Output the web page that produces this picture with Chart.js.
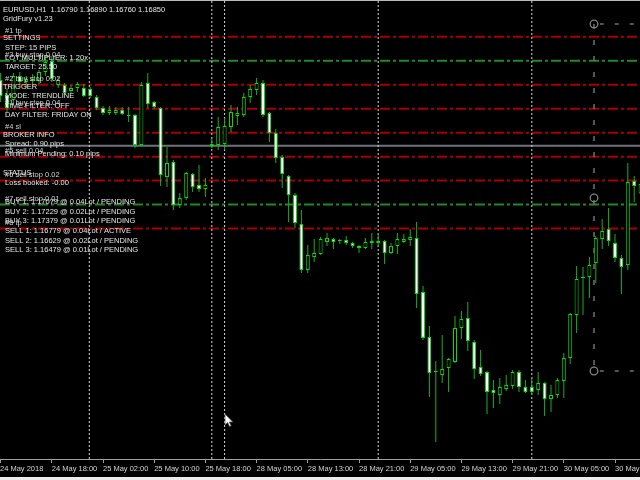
<!DOCTYPE html>
<html>
<head>
<meta charset="utf-8">
<title>EURUSD,H1 - GridFury</title>
<script src="https://cdn.jsdelivr.net/npm/chart.js@4.4.1/dist/chart.umd.min.js"></script>
<style>
  html, body { margin: 0; padding: 0; background: #ececec; }
  #wrap { position: relative; width: 640px; height: 477px; background: #000; }
</style>
</head>
<body>
<div id="wrap"><canvas id="chart"></canvas></div>
<script>
// --- EURUSD H1 candles, 24-30 May 2018 (one entry per bar) ---

const openPrices = [
  1.17500, 1.17406, 1.17375, 1.17525, 1.17488, 1.17506, 1.17494, 1.17550, 1.17619, 1.17469,
  1.17469, 1.17431, 1.17450, 1.17450, 1.17444, 1.17394, 1.17325, 1.17294, 1.17294, 1.17313,
  1.17281, 1.17281, 1.17094, 1.17481, 1.17363, 1.17325, 1.16894, 1.16988, 1.16719, 1.16763,
  1.16913, 1.16844, 1.16819, 1.17088, 1.17094, 1.17100, 1.17206, 1.17275, 1.17281, 1.17394,
  1.17438, 1.17481, 1.17294, 1.17169, 1.17019, 1.16900, 1.16781, 1.16600, 1.16313, 1.16394,
  1.16413, 1.16488, 1.16506, 1.16494, 1.16500, 1.16481, 1.16463, 1.16450, 1.16481, 1.16481,
  1.16494, 1.16419, 1.16463, 1.16488, 1.16500, 1.16513, 1.16175, 1.15894, 1.15675, 1.15656,
  1.15700, 1.15738, 1.15950, 1.16013, 1.15863, 1.15706, 1.15675, 1.15563, 1.15531, 1.15569,
  1.15588, 1.15675, 1.15581, 1.15581, 1.15563, 1.15606, 1.15506, 1.15531, 1.15619, 1.15763,
  1.16031, 1.16263, 1.16269, 1.16356, 1.16506, 1.16569, 1.16481, 1.16388, 1.16344, 1.16869,
  1.16790
];
const highPrices = [
  1.17544, 1.17450, 1.17544, 1.17550, 1.17525, 1.17538, 1.17563, 1.17656, 1.17644, 1.17519,
  1.17481, 1.17469, 1.17488, 1.17475, 1.17456, 1.17406, 1.17338, 1.17338, 1.17331, 1.17331,
  1.17331, 1.17288, 1.17488, 1.17544, 1.17369, 1.17331, 1.17081, 1.17000, 1.16794, 1.16925,
  1.16919, 1.16969, 1.16888, 1.17138, 1.17269, 1.17263, 1.17344, 1.17331, 1.17419, 1.17469,
  1.17513, 1.17500, 1.17300, 1.17194, 1.17031, 1.16906, 1.16794, 1.16688, 1.16469, 1.16506,
  1.16519, 1.16544, 1.16513, 1.16506, 1.16525, 1.16488, 1.16469, 1.16513, 1.16544, 1.16544,
  1.16500, 1.16481, 1.16544, 1.16538, 1.16569, 1.16613, 1.16213, 1.15963, 1.15744, 1.15906,
  1.15763, 1.16025, 1.16056, 1.16113, 1.15875, 1.15813, 1.15681, 1.15625, 1.15638, 1.15656,
  1.15688, 1.15688, 1.15625, 1.15644, 1.15675, 1.15613, 1.15594, 1.15638, 1.15794, 1.16044,
  1.16338, 1.16331, 1.16394, 1.16525, 1.16631, 1.16700, 1.16538, 1.16406, 1.16981, 1.16900,
  1.16890
];
const lowPrices = [
  1.17363, 1.17300, 1.17350, 1.17469, 1.17450, 1.17475, 1.17475, 1.17525, 1.17488, 1.17450,
  1.17406, 1.17419, 1.17425, 1.17394, 1.17388, 1.17313, 1.17281, 1.17281, 1.17281, 1.17281,
  1.17238, 1.17075, 1.17088, 1.17325, 1.17319, 1.16838, 1.16831, 1.16688, 1.16700, 1.16750,
  1.16800, 1.16800, 1.16769, 1.17075, 1.17063, 1.17063, 1.17175, 1.17219, 1.17269, 1.17356,
  1.17406, 1.17269, 1.17113, 1.16981, 1.16825, 1.16613, 1.16575, 1.16294, 1.16294, 1.16363,
  1.16406, 1.16463, 1.16444, 1.16475, 1.16469, 1.16450, 1.16419, 1.16444, 1.16444, 1.16456,
  1.16350, 1.16413, 1.16413, 1.16481, 1.16463, 1.16075, 1.15875, 1.15519, 1.15238, 1.15606,
  1.15550, 1.15731, 1.15881, 1.15806, 1.15631, 1.15650, 1.15413, 1.15450, 1.15475, 1.15556,
  1.15569, 1.15550, 1.15544, 1.15531, 1.15531, 1.15400, 1.15425, 1.15513, 1.15513, 1.15725,
  1.15919, 1.16031, 1.16138, 1.16231, 1.16444, 1.16463, 1.16363, 1.16163, 1.16313, 1.16738,
  1.16760
];
const closePrices = [
  1.17400, 1.17325, 1.17525, 1.17488, 1.17506, 1.17494, 1.17550, 1.17613, 1.17506, 1.17500,
  1.17419, 1.17450, 1.17475, 1.17400, 1.17400, 1.17325, 1.17294, 1.17313, 1.17313, 1.17288,
  1.17275, 1.17094, 1.17469, 1.17350, 1.17331, 1.16906, 1.16981, 1.16719, 1.16763, 1.16919,
  1.16831, 1.16819, 1.16844, 1.17100, 1.17206, 1.17213, 1.17300, 1.17294, 1.17394, 1.17444,
  1.17481, 1.17281, 1.17169, 1.17013, 1.16913, 1.16781, 1.16606, 1.16313, 1.16406, 1.16419,
  1.16506, 1.16513, 1.16488, 1.16494, 1.16481, 1.16463, 1.16450, 1.16488, 1.16494, 1.16494,
  1.16419, 1.16463, 1.16506, 1.16506, 1.16519, 1.16163, 1.15888, 1.15669, 1.15675, 1.15694,
  1.15756, 1.15950, 1.16006, 1.15869, 1.15694, 1.15663, 1.15550, 1.15544, 1.15581, 1.15594,
  1.15675, 1.15581, 1.15550, 1.15550, 1.15606, 1.15506, 1.15531, 1.15625, 1.15763, 1.16038,
  1.16256, 1.16269, 1.16344, 1.16513, 1.16556, 1.16494, 1.16388, 1.16331, 1.16863, 1.16838,
  1.16850
];

// time axis: bar index of each label and its text
const tickBars = [-0.094, 8, 16, 24, 32, 40, 48, 56, 64, 72, 80, 88, 96];
const tickLabels = [
  '24 May 2018', '24 May 18:00', '25 May 02:00', '25 May 10:00', '25 May 18:00',
  '28 May 05:00', '28 May 13:00', '28 May 21:00', '29 May 05:00', '29 May 13:00',
  '29 May 21:00', '30 May 05:00', '30 May 13:00'
];

// grid order levels drawn as horizontal lines
const redLevels = [1.17771, 1.17471, 1.17321, 1.17171, 1.17021, 1.16871, 1.16571];
const redLevelNames = ['#1 tp', '#2 buy stop 0.02', '#1 buy stop 0.04', '#4 sl', '#5 sell 0.04', '#6 sell stop 0.02', '#8 tp'];
const greenLevels = [1.17621, 1.16721];
const greenLevelNames = ['#3 buy stop 0.04', '#7 sell stop 0.01'];
const trendLevel = 1.17089;

// vertical markers (bar index): day separators and a drawn vertical line
const daySeparators = [13.86, 35, 59, 83];
const markerBars = [33];

// gray anchor object near the right edge
const anchorBar = 92.72;
const anchorPrices = [1.17850, 1.16763, 1.15681];

// EA info panel
const panelLines = [
  'EURUSD,H1  1.16790 1.16890 1.16760 1.16850',
  'GridFury v1.23',
  '',
  'SETTINGS',
  ' STEP: 15 PIPS',
  ' LOT MULTIPLIER: 1.20x',
  ' TARGET: 25.50',
  '',
  'TRIGGER',
  ' MODE: TRENDLINE',
  ' TIME FILTER: OFF',
  ' DAY FILTER: FRIDAY ON',
  '',
  'BROKER INFO',
  ' Spread: 0.90 pips',
  ' Minimum Pending: 0.10 pips',
  '',
  'STATUS',
  ' Loss booked: -0.00',
  '',
  ' BUY 1: 1.17079 @ 0.04Lot / PENDING',
  ' BUY 2: 1.17229 @ 0.02Lot / PENDING',
  ' BUY 3: 1.17379 @ 0.01Lot / PENDING',
  ' SELL 1: 1.16779 @ 0.04Lot / ACTIVE',
  ' SELL 2: 1.16629 @ 0.02Lot / PENDING',
  ' SELL 3: 1.16479 @ 0.01Lot / PENDING'
];

const X_MIN = -0.094;
const X_MAX = 99.906;
const Y_MIN = 1.15131;
const Y_MAX = 1.18;

const FONT = '"Liberation Sans", Arial, sans-serif';
Chart.defaults.font.family = FONT;

const bullColor = '#000000';
const bearColor = '#ffffff';
const edgeColor = '#00e000';
const wickColor = '#18b018';

const bodyColors = openPrices.map((o, i) =>
  closePrices[i] < o ? bearColor : (closePrices[i] > o ? bullColor : edgeColor));

function hLine(price, color, width, dash) {
  return {
    type: 'line',
    data: [{ x: X_MIN, y: price }, { x: X_MAX, y: price }],
    borderColor: color, borderWidth: width, borderDash: dash,
    pointRadius: 0, order: 10
  };
}
function vLine(bar, color, dash) {
  return {
    type: 'line',
    data: [{ x: bar, y: Y_MIN }, { x: bar, y: Y_MAX }],
    borderColor: color, borderWidth: 1, borderDash: dash,
    pointRadius: 0, order: 9
  };
}

const datasets = [
  {
    label: 'body',
    data: openPrices.map((o, i) => ({ x: i, y: [o, closePrices[i]] })),
    backgroundColor: bodyColors,
    borderColor: edgeColor,
    borderWidth: 1,
    borderSkipped: false,
    barThickness: 4,
    minBarLength: 1,
    inflateAmount: 0,
    grouped: false,
    order: 1
  },
  {
    label: 'wick',
    data: lowPrices.map((l, i) => ({ x: i, y: [l, highPrices[i]] })),
    backgroundColor: wickColor,
    borderWidth: 0,
    barThickness: 1,
    inflateAmount: 0,
    grouped: false,
    order: 2
  }
];

redLevels.forEach(p => datasets.push(hLine(p, '#a80000', 2, [10, 3, 3, 3])));
greenLevels.forEach(p => datasets.push(hLine(p, '#1f8a1f', 2, [10, 3, 3, 3])));
datasets.push(hLine(trendLevel, '#6c737c', 2, []));
daySeparators.forEach(b => datasets.push(vLine(b, '#d8d8d8', [2, 2])));
markerBars.forEach(b => datasets.push(vLine(b, '#d8d8d8', [2, 2])));

// gray anchor: vertical dashed line with three handles, two dashed rays to the right
datasets.push({
  type: 'line',
  data: anchorPrices.map(p => ({ x: anchorBar, y: p })),
  borderColor: '#707070', borderWidth: 1.5, borderDash: [5, 11],
  pointRadius: 3.8, pointBorderWidth: 1.3,
  pointBorderColor: '#808080', pointBackgroundColor: 'rgba(0,0,0,0)',
  order: 8
});
[anchorPrices[0], anchorPrices[2]].forEach(p => datasets.push({
  type: 'line',
  data: [{ x: anchorBar + 0.9, y: p }, { x: X_MAX, y: p }],
  borderColor: '#707070', borderWidth: 1.5, borderDash: [4, 11],
  pointRadius: 0, order: 8
}));

// black background, top frame, texts and the mouse pointer
const screenPlugin = {
  id: 'screen',
  beforeDraw(chart) {
    const c = chart.ctx;
    c.save();
    c.fillStyle = '#000';
    c.fillRect(0, 0, chart.width, chart.height);
    c.restore();
  },
  afterDatasetsDraw(chart) {
    const c = chart.ctx;
    const y = chart.scales.y;
    c.save();
    c.font = '7.5px ' + FONT;
    c.textBaseline = 'middle';
    c.fillStyle = '#cfcfcf';
    redLevels.forEach((p, i) => c.fillText(redLevelNames[i], 5, y.getPixelForValue(p) - 5.5));
    greenLevels.forEach((p, i) => c.fillText(greenLevelNames[i], 5, y.getPixelForValue(p) - 5.5));
    c.fillStyle = '#e4e4e4';
    panelLines.forEach((t, i) => { if (t) c.fillText(t, 3, 9.5 + i * 9.63); });

    // top frame line
    c.fillStyle = '#b8b8b8';
    c.fillRect(0, 0, chart.width, 1);

    // mouse pointer
    c.translate(225, 414);
    c.beginPath();
    c.moveTo(0, 0); c.lineTo(0, 11); c.lineTo(2.6, 8.6); c.lineTo(4.6, 12.6);
    c.lineTo(6.2, 11.8); c.lineTo(4.3, 8); c.lineTo(7.8, 8); c.closePath();
    c.fillStyle = '#ffffff'; c.fill();
    c.strokeStyle = '#505050'; c.lineWidth = 0.8; c.stroke();
    c.restore();
  }
};

new Chart(document.getElementById('chart'), {
  type: 'bar',
  data: { datasets: datasets },
  options: {
    responsive: true,
    maintainAspectRatio: false,
    animation: false,
    layout: { padding: 0, autoPadding: false },
    plugins: { legend: { display: false }, tooltip: { enabled: false } },
    scales: {
      x: {
        type: 'linear',
        min: X_MIN,
        max: X_MAX,
        offset: false,
        grid: { display: true, offset: false, drawOnChartArea: false, tickLength: 4, color: '#a0a0a0' },
        border: { display: true, color: '#a0a0a0', width: 1 },
        ticks: {
          autoSkip: false, maxRotation: 0, minRotation: 0, align: 'start', padding: 1,
          color: '#d4d4d4', font: { size: 7.5 },
          callback: (v, i) => tickLabels[i]
        },
        afterBuildTicks: axis => { axis.ticks = tickBars.map(v => ({ value: v })); },
        afterFit: axis => { axis.height = 18; axis.paddingLeft = 0; axis.paddingRight = 0; }
      },
      y: { type: 'linear', display: false, min: Y_MIN, max: Y_MAX }
    }
  },
  plugins: [screenPlugin]
});
</script>
</body>
</html>
